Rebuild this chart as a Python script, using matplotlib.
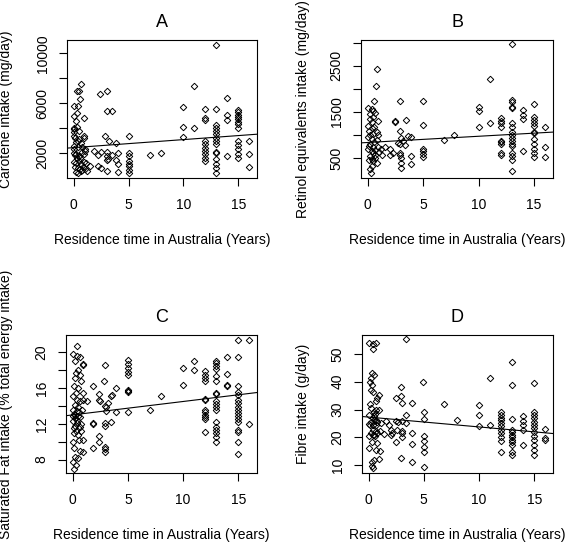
import matplotlib
matplotlib.use("Agg")
from matplotlib import pyplot as plt

plt.rcParams['font.family'] = ['Liberation Sans', 'DejaVu Sans']

XLABEL = "Residence time in Australia (Years)"

# ---- panel A: carotene ----
a_x = [0.67, 0.3, 0.5, 0.58, 0.06, 0.37, 0.33, 0.0, 0.92, 0.25, 0.08, 0.33, 0.5, 0.92, 0.92,
       0.0, 0.08, 0.0, 0.17, 0.5, 0.25, 0.67, 0.08, 0.42, 0.75, 1.0, 0.0, 0.17, 0.25, 0.5,
       0.75, 0.92, 1.0, 0.33, 0.08, 0.25, 0.5, 0.67, 0.92, 1.17, 0.17, 0.42, 0.58, 0.83, 0.25,
       0.42, 0.67, 0.75, 1.0, 1.25, 0.58, 0.08, 0.42,
       1.5, 1.9, 2.2, 2.2, 2.4, 2.5, 2.5, 2.9, 3.0, 3.0, 3.0, 3.0, 3.0, 3.1, 3.0, 3.25, 3.5,
       3.5, 3.9, 3.9, 4.0, 4.0, 4.0,
       5, 5, 5, 5, 5, 5, 5, 5, 7, 8,
       10, 10, 10, 11, 11,
       12, 12, 12, 12, 12, 12, 12, 12, 12, 12,
       13, 13, 13, 13, 13, 13, 13, 13, 13, 13, 13, 13, 13, 13, 13,
       14, 14, 14, 14,
       15, 15, 15, 15, 15, 15, 15, 15, 15, 15, 15, 15, 15,
       16, 16, 16]
a_y = [7520, 6960, 6960, 6300, 5760, 5760, 5230, 4960, 4830, 4560, 4030, 4080, 3760, 3330, 3200,
       3900, 3700, 3400, 3200, 3100, 2900, 2800, 2600, 2500, 2450, 2200, 2000, 1850, 1900, 1750,
       2050, 1950, 2300, 1600, 1300, 1200, 1400, 1100, 1300, 1200, 900, 800, 700, 850, 500,
       400, 550, 650, 700, 600, 1600, 2300, 3000,
       990, 2130, 1870, 930, 6720, 2050, 800, 3390, 7010, 5410, 2050, 1730, 1470, 1550, 590, 2930, 5410,
       1870, 2800, 1470, 2030, 1090, 450,
       3330, 2030, 1760, 1360, 1100, 960, 610, 430, 1840, 2000,
       5707, 4080, 3307, 7414, 4027,
       5573, 4830, 4690, 2960, 2750, 2430, 2160, 1890, 1630, 1360,
       10694, 5573, 4240, 3973, 3760, 3493, 3227, 2960, 2693, 2080, 2027, 1493, 1093, 773, 400,
       6427, 5093, 4613, 1760,
       5493, 5307, 5093, 4880, 4693, 4507, 4347, 4027, 2960, 2640, 2290, 1950, 1630,
       2960, 1950, 880]

# ---- panel B: retinol equivalents ----
b_x = [0.8, 0.72, 0.6, 0.06, 0.36, 0.5, 0.2, 0.5, 0.2, 0.36, 0.95, 0.06, 0.36, 0.1, 0.5,
       0.06, 0.36, 0.8, 0.95, 0.2, 0.5, 0.06, 0.66, 0.36, 0.95, 0.2, 0.66, 0.5, 0.8, 0.36,
       0.2, 0.3, 0.1, 0.25, 0.6, 0.45, 0.7, 0.15, 0.55, 0.85, 0.4, 0.62,
       2.9, 4.98, 2.45, 2.45, 3.43, 5.0, 2.9, 3.64, 3.9, 3.0, 3.2, 2.7, 2.9, 3.4, 1.55, 2.0,
       2.3, 2.9, 2.9, 3.0, 3.94, 3.9, 5, 5, 5, 5, 3.0, 3.0, 6.87, 7.8, 1.2, 1.0, 2.0, 1.3,
       10, 10, 10, 11, 11,
       12, 12, 12, 12, 12, 12, 12, 12, 12,
       13, 13, 13, 13, 13, 13, 13, 13, 13, 13, 13, 13, 13, 13, 13, 13, 13,
       14, 14, 14, 14,
       15, 15, 15, 15, 15, 15, 15, 15, 15, 15, 15, 15,
       16, 16, 16]
b_y = [2434, 2056, 1743, 1583, 1561, 1510, 1452, 1380, 1343, 1270, 1307, 1200, 1160, 1090, 1020,
       960, 900, 1060, 990, 800, 740, 700, 670, 640, 740, 540, 500, 430, 400, 330,
       250, 180, 760, 1000, 850, 600, 560, 450, 1180, 880, 470, 1480,
       1729, 1743, 1270, 1300, 1330, 1220, 1075, 972, 958, 940, 870, 830, 800, 780, 740, 690,
       616, 616, 565, 493, 544, 362, 690, 640, 580, 530, 398, 290, 893, 994, 700, 620, 560, 560,
       1612, 1510, 1162, 2216, 1249,
       1358, 1307, 1249, 1176, 870, 835, 800, 615, 565,
       2980, 1758, 1707, 1612, 1583, 1249, 1162, 1053, 1000, 943, 870, 812, 762, 617, 545, 450, 217,
       1540, 1437, 1343, 653,
       1670, 1380, 1321, 1249, 1190, 1053, 1040, 921, 812, 700, 617, 510,
       1162, 740, 510]

# ---- panel C: saturated fat ----
c_x = [0.43, 0.06, 0.36, 0.66, 0.2, 0.9, 0.9, 0.5, 0.3, 0.66, 0.2, 0.8, 0.15, 0.5, 0.97,
       0.06, 0.36, 0.66, 0.97, 0.2, 0.5, 0.0, 0.36, 0.12, 0.5, 0.2, 0.66, 0.0, 0.36, 0.2,
       0.66, 0.8, 0.12, 0.5, 0.06, 0.6, 0.97, 0.12, 0.66, 0.9, 0.2, 0.5, 0.06, 0.3, 0.12,
       0.25, 0.4, 0.1, 0.3, 0.75, 0.05, 0.55, 0.85, 0.3,
       1.28, 1.88, 2.43, 2.43, 2.8, 2.95, 3.0, 3.0, 3.46, 3.6, 3.95, 1.88, 1.88, 2.95, 2.95,
       3.46, 2.43, 1.88, 2.43, 2.95, 2.95, 2.95, 3.95, 2.95, 3.2, 2.5,
       5, 5, 5, 5, 5, 5, 5, 5, 5, 7, 8,
       10, 10, 11, 11,
       12, 12, 12, 12, 12, 12, 12, 12, 12, 12, 12, 12,
       13, 13, 13, 13, 13, 13, 13, 13, 13, 13, 13, 13, 13, 13, 13, 13, 13, 13,
       14, 14, 14, 14,
       15, 15, 15, 15, 15, 15, 15, 15, 15, 15, 15, 15, 15, 15, 15, 15, 15,
       16, 16]
c_y = [20.67, 19.85, 19.55, 19.47, 19.0, 18.54, 18.65, 18.05, 17.68, 17.5, 17.1, 16.75, 16.2, 16.0, 15.4,
       15.07, 14.7, 14.5, 14.7, 14.13, 13.9, 13.6, 13.4, 13.1, 12.9, 12.6, 12.8, 12.3, 12.1, 11.8,
       11.6, 12.0, 10.95, 10.77, 10.0, 10.2, 10.2, 9.27, 9.0, 8.9, 8.34, 8.15, 7.78, 7.4, 7.0,
       13.0, 12.4, 11.5, 11.2, 11.2, 12.9, 13.3, 13.6, 15.5,
       14.5, 16.26, 15.36, 14.7, 16.82, 18.6, 13.9, 13.4, 15.1, 15.2, 15.96, 12.07, 11.95, 12.07, 11.8,
       12.26, 10.65, 9.27, 10.0, 9.46, 9.16, 8.86, 13.38, 14.0, 14.3, 14.5,
       19.18, 18.7, 18.25, 17.75, 17.5, 15.8, 15.6, 15.7, 13.38, 13.57, 15.07,
       18.24, 16.37, 18.99, 18.06,
       17.87, 17.5, 17.12, 16.75, 14.77, 14.7, 13.57, 13.27, 13.0, 12.75, 12.5, 11.1,
       19.0, 18.8, 18.5, 18.13, 17.3, 16.8, 15.5, 15.36, 14.5, 14.24, 13.94, 13.57, 12.26, 11.7, 11.33, 10.95, 10.58, 10.0,
       19.48, 17.57, 16.37, 16.2,
       21.42, 19.48, 16.2, 15.6, 15.25, 14.7, 14.3, 13.9, 13.57, 13.2, 12.9, 12.5, 12.26, 11.33, 11.1, 10.0, 8.64,
       21.42, 12.0]

# ---- panel D: fibre ----
d_x = [0.06, 0.36, 0.66, 0.36, 0.3, 0.5, 0.2, 0.1, 0.3, 0.2, 0.36, 0.9, 0.8, 0.0, 0.36,
       0.66, 0.2, 0.5, 0.8, 0.06, 0.36, 0.66, 1.1, 0.12, 0.36, 0.66, 0.2, 0.5, 0.8, 1.0,
       0.06, 0.4, 0.6, 0.06, 0.66, 0.3, 0.5, 0.95, 0.3, 0.36, 0.5, 0.2, 0.7, 0.5, 0.6,
       0.1, 0.7, 0.9, 0.3, 0.8,
       3.4, 2.9, 4.93, 2.45, 2.9, 3.0, 3.9, 3.4, 5, 5, 1.55, 1.85, 2.45, 2.7, 3.0, 3.4, 2.0,
       2.1, 2.6, 3.0, 3.0, 1.4, 2.0, 2.45, 3.0, 3.9, 3.9, 5, 5, 5, 5, 2.9, 3.9, 5, 1.0,
       6.87, 8,
       10, 10, 10, 11, 11,
       12, 12, 12, 12, 12, 12, 12, 12, 12, 12, 12,
       13, 13, 13, 13, 13, 13, 13, 13, 13, 13, 13, 13,
       14, 14, 14, 14, 14,
       15, 15, 15, 15, 15, 15, 15, 15, 15, 15, 15, 15, 15,
       16, 16, 16]
d_y = [54.1, 53.5, 53.9, 51.7, 43.3, 42.3, 41.4, 39.9, 39.0, 37.0, 36.3, 35.4, 34.2, 28.2, 27.0,
       26.4, 25.6, 26.1, 25.4, 24.9, 24.6, 24.4, 25.0, 24.6, 22.8, 22.2, 21.6, 21.0, 21.6, 22.2,
       20.4, 20.8, 20.6, 16.1, 15.3, 11.3, 11.9, 12.2, 9.8, 8.9, 29.0, 30.4, 30.0, 27.8, 28.5,
       32.0, 33.0, 30.0, 18.5, 18.0,
       55.3, 38.2, 40.0, 34.2, 34.8, 32.4, 32.4, 28.2, 29.0, 26.6, 25.8, 24.6, 26.0, 25.5, 25.8, 25.0, 22.8,
       21.6, 22.8, 22.2, 21.6, 21.2, 20.8, 18.2, 20.0, 21.6, 17.7, 20.4, 18.6, 16.7, 14.9, 12.5, 11.3, 9.5, 15.0,
       32.0, 26.1,
       31.8, 28.2, 24.0, 41.5, 24.6,
       29.2, 28.2, 27.0, 26.1, 25.2, 24.2, 22.8, 21.6, 20.1, 18.6, 14.9,
       47.1, 39.0, 26.6, 22.8, 21.8, 21.0, 20.1, 19.2, 18.2, 17.4, 14.9, 13.7,
       27.6, 25.8, 24.6, 22.8, 17.4,
       39.6, 29.0, 28.2, 27.0, 25.4, 24.6, 23.4, 21.8, 20.4, 18.9, 17.4, 15.5, 13.7,
       23.0, 19.8, 19.2]

# fitted lines (intercept, slope)
a_fit = (2435, 64.5)
b_fit = (835, 13.5)
c_fit = (13.0, 0.15)
d_fit = (27.3, -0.354)

a_yticks = [2000, 4000, 6000, 8000, 10000]
a_ylabels = ["2000", "", "6000", "", "10000"]
b_yticks = [500, 1000, 1500, 2000, 2500, 3000]
b_ylabels = ["500", "", "1500", "", "2500", ""]
c_yticks = [8, 10, 12, 14, 16, 18, 20]
c_ylabels = ["8", "", "12", "", "16", "", "20"]
d_yticks = [10, 20, 30, 40, 50]
d_ylabels = ["10", "20", "30", "40", "50"]


def panel(ax, x, y, fit, title, ylabel, ylim, yticks, ylabels, ylab_x):
    ax.plot(x, y, ls='none', marker='D', ms=3.3, mfc='none', mec='black', mew=0.7)
    ax.axline((0, fit[0]), slope=fit[1], color='black', lw=0.8)
    ax.set_xlim(-0.6, 16.7)
    ax.set_ylim(*ylim)
    ax.set_xticks([0, 5, 10, 15])
    ax.set_yticks(yticks)
    ax.set_yticklabels(ylabels, rotation=90, va='center')
    ax.tick_params(direction='out', length=5.5, width=0.8, labelsize=10)
    ax.tick_params(axis='x', pad=9)
    ax.tick_params(axis='y', pad=7)
    for s in ax.spines.values():
        s.set_linewidth(0.8)
    ax.set_title(title, fontsize=13, pad=9)
    ax.set_xlabel(XLABEL, fontsize=10)
    ax.xaxis.set_label_coords(0.5, -0.40)
    ax.set_ylabel(ylabel, fontsize=10)
    ax.yaxis.set_label_coords(ylab_x, 0.5)


fig = plt.figure(figsize=(5.67, 5.44), dpi=100)
axA = fig.add_axes([0.1182, 0.6728, 0.3351, 0.2537])
axB = fig.add_axes([0.6367, 0.6728, 0.3386, 0.2537])
axC = fig.add_axes([0.1164, 0.1305, 0.3369, 0.2537])
axD = fig.add_axes([0.6384, 0.1305, 0.3369, 0.2537])

panel(axA, a_x, a_y, a_fit, "A", "Carotene intake (mg/day)", (0, 11070), a_yticks, a_ylabels, -0.284)
panel(axB, b_x, b_y, b_fit, "B", "Retinol equivalents intake (mg/day)", (64, 3060), b_yticks, b_ylabels, -0.266)
panel(axC, c_x, c_y, c_fit, "C", "Saturated Fat intake (% total energy intake)", (6.5, 21.94), c_yticks, c_ylabels, -0.277)
panel(axD, d_x, d_y, d_fit, "D", "Fibre intake (g/day)", (7.2, 56.8), d_yticks, d_ylabels, -0.272)

fig.savefig("out.png", dpi=100)
